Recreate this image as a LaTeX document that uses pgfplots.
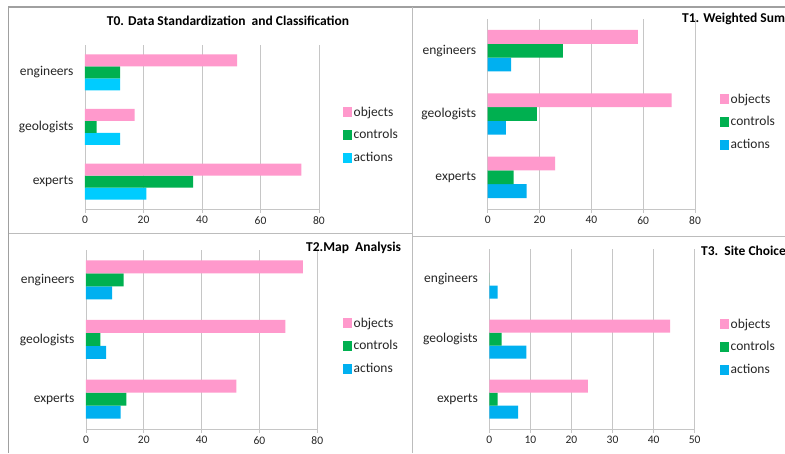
\documentclass[border=0pt]{standalone}
\usepackage{fontspec}
\setmainfont{Carlito}
\usepackage{pgfplots}
\pgfplotsset{compat=1.18}

\definecolor{objpink}{HTML}{FF99CC}
\definecolor{ctlgreen}{HTML}{00B050}
\definecolor{actcyan}{HTML}{00CCFF}
\definecolor{actblue}{HTML}{00B0F0}
\definecolor{gridgrey}{HTML}{C6C6C6}
\definecolor{framegrey}{HTML}{A0A0A0}

\pgfplotsset{
  panel/.style={
    scale only axis,
    anchor=south west,
    xbar=0pt,
    xmin=0,
    ymin=-0.5, ymax=2.5,
    ytick={0,1,2},
    yticklabels={experts,geologists,engineers},
    axis x line*=bottom,
    axis y line*=left,
    axis line style={gridgrey, line width=0.8pt},
    xmajorgrids,
    major grid style={gridgrey, line width=0.8pt},
    xtick style={gridgrey, line width=0.8pt},
    ytick style={draw=none},
    tick align=outside,
    major tick length=4pt,
    /pgf/number format/assume math mode=true,
    xticklabel style={font=\fontsize{11.5}{13}\selectfont, text=black!85},
    yticklabel style={font=\fontsize{13.5}{16}\selectfont, text=black!85, xshift=-4pt},
    legend style={draw=none, fill=none, inner sep=0pt, anchor=west,
      font=\fontsize{13.5}{16}\selectfont, text=black!85,
      row sep=9pt,
      nodes={inner sep=1.5pt}},
    legend cell align=left,
    reverse legend,
    legend image code/.code={\fill[##1, draw=none] (0pt,-4.8pt) rectangle (9pt,4.8pt);},
  }
}

\begin{document}
\begin{tikzpicture}[x=1pt,y=1pt]
\useasboundingbox (0,0) rectangle (785,453);
\fill[white] (0,0) rectangle (785,453);

% panel frames
\draw[framegrey, line width=1.2pt] (8.5,0) -- (8.5,446) -- (785,446);
\draw[framegrey!70, line width=1pt] (412,0) -- (412,446);
\draw[framegrey!70, line width=1pt] (8.5,219) -- (412,219);
\draw[framegrey!70, line width=1pt] (412,216) -- (785,216);

% T0
\begin{axis}[panel, at={(85pt,244pt)}, width=234pt, height=164pt,
  xmax=80, xtick={0,20,40,60,80}, bar width=12pt,
  legend style={at={(1.1026,0.451)}}]
\addplot[fill=actcyan, draw=none] coordinates {(21,0) (12,1) (12,2)};
\addplot[fill=ctlgreen, draw=none] coordinates {(37,0) (4,1) (12,2)};
\addplot[fill=objpink, draw=none] coordinates {(74,0) (17,1) (52,2)};
\legend{actions,controls,objects}
\end{axis}
\node[font=\fontsize{13.5}{16}\selectfont\bfseries] at (228,432) {T0. Data Standardization\ \ and Classification};

% T1
\begin{axis}[panel, at={(487.7pt,244pt)}, width=207.3pt, height=190pt,
  xmax=80, xtick={0,20,40,60,80}, bar width=13.8pt,
  legend style={at={(1.1206,0.458)}}]
\addplot[fill=actblue, draw=none] coordinates {(15,0) (7,1) (9,2)};
\addplot[fill=ctlgreen, draw=none] coordinates {(10,0) (19,1) (29,2)};
\addplot[fill=objpink, draw=none] coordinates {(26,0) (71,1) (58,2)};
\legend{actions,controls,objects}
\end{axis}
\node[font=\fontsize{13.5}{16}\selectfont\bfseries, anchor=west, inner sep=0pt] at (682,434) {T1. Weighted Sum};

% T2
\begin{axis}[panel, at={(86pt,24pt)}, width=231.3pt, height=179pt,
  xmax=80, xtick={0,20,40,60,80}, bar width=13pt,
  legend style={at={(1.111,0.464)}}]
\addplot[fill=actblue, draw=none] coordinates {(12,0) (7,1) (9,2)};
\addplot[fill=ctlgreen, draw=none] coordinates {(14,0) (5,1) (13,2)};
\addplot[fill=objpink, draw=none] coordinates {(52,0) (69,1) (75,2)};
\legend{actions,controls,objects}
\end{axis}
\node[font=\fontsize{13.5}{16}\selectfont\bfseries, anchor=west, inner sep=0pt] at (306,205) {T2.Map\ \ Analysis};

% T3
\begin{axis}[panel, at={(489.3pt,24pt)}, width=205.4pt, height=180pt,
  xmax=50, xtick={0,10,20,30,40,50}, bar width=13pt,
  legend style={at={(1.123,0.456)}}]
\addplot[fill=actblue, draw=none] coordinates {(7,0) (9,1) (2,2)};
\addplot[fill=ctlgreen, draw=none] coordinates {(2,0) (3,1) (0,2)};
\addplot[fill=objpink, draw=none] coordinates {(24,0) (44,1) (0,2)};
\legend{actions,controls,objects}
\end{axis}
\node[font=\fontsize{13.5}{16}\selectfont\bfseries, anchor=west, inner sep=0pt] at (701,202) {T3.\ \ Site Choice};
\end{tikzpicture}
\end{document}
